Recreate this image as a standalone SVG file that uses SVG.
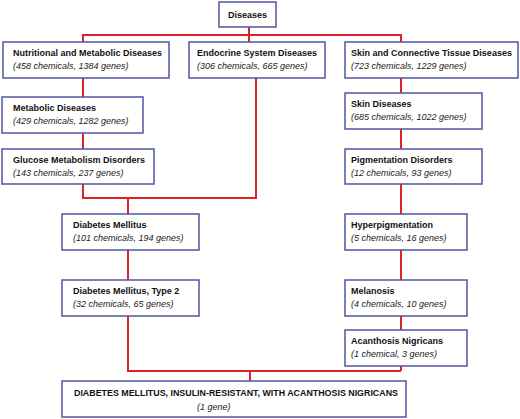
<svg xmlns="http://www.w3.org/2000/svg" width="520" height="419" viewBox="0 0 520 419">
<style>
.bg{fill:#ffffff}
.box{fill:#ffffff;stroke:#4f55a0;stroke-width:1.5}
.ln{fill:none;stroke:#e0232b;stroke-width:2}
.t{font-family:"Liberation Sans",Arial,sans-serif;font-size:9px;font-weight:bold;fill:#111}
.s{font-family:"Liberation Sans",Arial,sans-serif;font-size:9px;font-style:italic;fill:#222}
</style>
<rect class="bg" x="0" y="0" width="520" height="419"/>
<g id="connectors">
<polyline class="ln" points="249,27 249,42"/>
<polyline class="ln" points="83,42 83,35 401,35 401,371"/>
<polyline class="ln" points="83,78 83,198 256,198 256,78"/>
<polyline class="ln" points="128,198 128,371 401,371"/>
<polyline class="ln" points="250,371 250,381"/>
</g>
<g id="n-diseases"><rect class="box" x="219" y="2" width="57" height="25"/><text class="t" x="247.5" y="18" text-anchor="middle">Diseases</text></g>
<g id="n-nutritional"><rect class="box" x="3" y="42" width="166" height="36"/><text class="t" x="13" y="56">Nutritional and Metabolic Diseases</text><text class="s" x="13" y="69">(458 chemicals, 1384 genes)</text></g>
<g id="n-endocrine"><rect class="box" x="189" y="42" width="136" height="36"/><text class="t" x="197" y="56">Endocrine System Diseases</text><text class="s" x="197" y="69">(306 chemicals, 665 genes)</text></g>
<g id="n-skinconn"><rect class="box" x="345" y="42" width="173" height="36"/><text class="t" x="351" y="56">Skin and Connective Tissue Diseases</text><text class="s" x="351" y="69">(723 chemicals, 1229 genes)</text></g>
<g id="n-metabolic"><rect class="box" x="2" y="97" width="141" height="36"/><text class="t" x="13" y="111">Metabolic Diseases</text><text class="s" x="13" y="124">(429 chemicals, 1282 genes)</text></g>
<g id="n-glucose"><rect class="box" x="2" y="149" width="152" height="35"/><text class="t" x="13" y="163">Glucose Metabolism Disorders</text><text class="s" x="13" y="176">(143 chemicals, 237 genes)</text></g>
<g id="n-skin"><rect class="box" x="345" y="93" width="137" height="36"/><text class="t" x="351" y="107">Skin Diseases</text><text class="s" x="351" y="120">(685 chemicals, 1022 genes)</text></g>
<g id="n-pigment"><rect class="box" x="345" y="149" width="137" height="35"/><text class="t" x="351" y="163">Pigmentation Disorders</text><text class="s" x="351" y="176">(12 chemicals, 93 genes)</text></g>
<g id="n-dm"><rect class="box" x="62" y="214" width="137" height="36"/><text class="t" x="73" y="228">Diabetes Mellitus</text><text class="s" x="73" y="241">(101 chemicals, 194 genes)</text></g>
<g id="n-dm2"><rect class="box" x="62" y="280" width="137" height="36"/><text class="t" x="73" y="294">Diabetes Mellitus, Type 2</text><text class="s" x="73" y="307">(32 chemicals, 65 genes)</text></g>
<g id="n-hyper"><rect class="box" x="345" y="214" width="122" height="36"/><text class="t" x="351" y="228">Hyperpigmentation</text><text class="s" x="351" y="241">(5 chemicals, 16 genes)</text></g>
<g id="n-melanosis"><rect class="box" x="345" y="280" width="122" height="36"/><text class="t" x="351" y="294">Melanosis</text><text class="s" x="351" y="307">(4 chemicals, 10 genes)</text></g>
<g id="n-acanthosis"><rect class="box" x="345" y="330" width="122" height="36"/><text class="t" x="351" y="344">Acanthosis Nigricans</text><text class="s" x="351" y="357">(1 chemical, 3 genes)</text></g>
<g id="n-final"><rect class="box" x="62" y="381" width="344" height="36"/><text class="t" x="74" y="396" textLength="324" lengthAdjust="spacingAndGlyphs">DIABETES MELLITUS, INSULIN-RESISTANT, WITH ACANTHOSIS NIGRICANS</text><text class="s" x="197" y="410">(1 gene)</text></g>
</svg>
